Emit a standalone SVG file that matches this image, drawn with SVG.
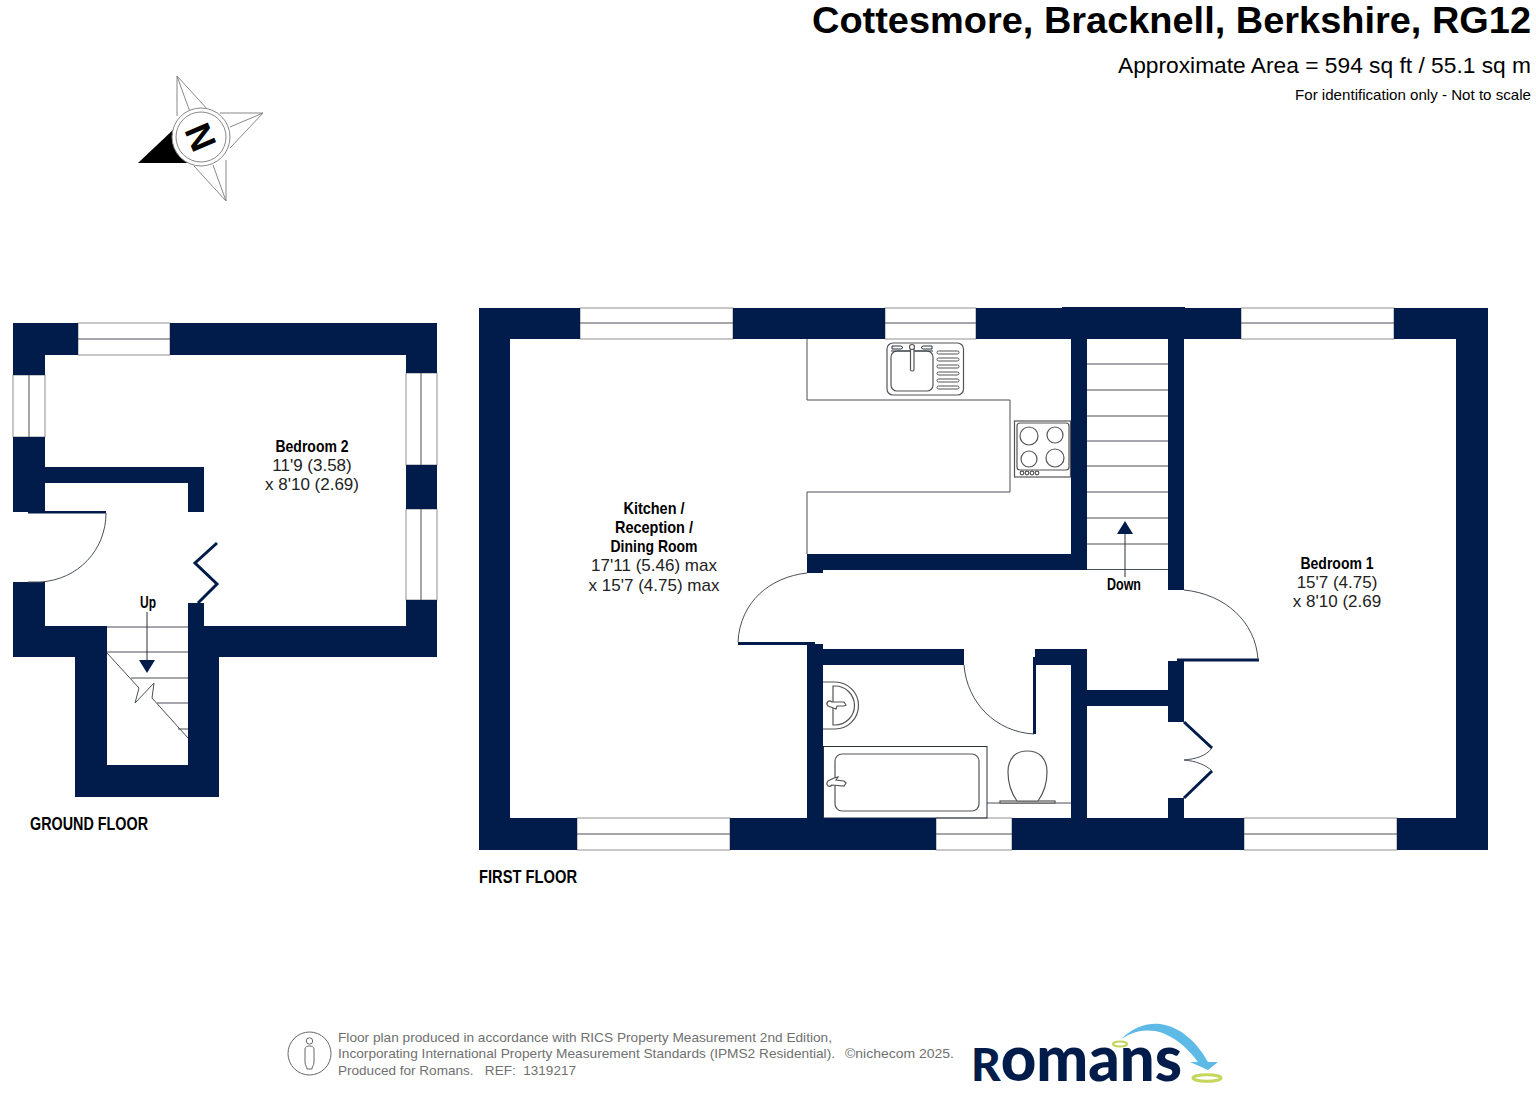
<svg xmlns="http://www.w3.org/2000/svg" width="1536" height="1096" viewBox="0 0 1536 1096">
<style>
.w{fill:#011b4a}
.ln{fill:none;stroke:#4a4f58;stroke-width:1}
.dk{fill:none;stroke:#2b3038;stroke-width:1}
.fx{fill:#fff;stroke:#555;stroke-width:1.2}
.win{fill:#fff;stroke:#777;stroke-width:.8}
.fold{fill:none;stroke:#011b4a;stroke-width:3}
.lab{font-family:"Liberation Sans",Arial,sans-serif;font-size:17px;fill:#222;text-anchor:middle}
.b{font-weight:bold;font-size:17px;fill:#000}
.fl{font-family:"Liberation Sans",Arial,sans-serif;font-weight:bold;font-size:19px;fill:#000}
.foot{font-family:"Liberation Sans",Arial,sans-serif;font-size:13.5px;fill:#707070;white-space:pre}
.head{font-family:"Liberation Sans",Arial,sans-serif;fill:#000;text-anchor:end}
</style>
<rect width="1536" height="1096" fill="#fff"/>

<g id="header">
<text class="head" x="1531" y="33" font-size="36" font-weight="bold" textLength="719" lengthAdjust="spacingAndGlyphs">Cottesmore, Bracknell, Berkshire, RG12</text>
<text class="head" x="1531" y="73" font-size="22" textLength="413" lengthAdjust="spacingAndGlyphs">Approximate Area = 594 sq ft / 55.1 sq m</text>
<text class="head" x="1531" y="100" font-size="14.5" textLength="236" lengthAdjust="spacingAndGlyphs">For identification only - Not to scale</text>
</g>

<g id="compass">
<path d="M177 76V116M177 76L209 111M177 76L190 112M263 113H220M263 113L230 148M263 113L230 127M226 201V160M226 201L194 166M226 201L213 165" fill="none" stroke="#888" stroke-width="1"/>
<path d="M138 163L174 129L187 163Z" fill="#000"/>
<circle cx="201" cy="137" r="29" fill="#fff" stroke="#888" stroke-width="1"/>
<circle cx="201" cy="137" r="25" fill="#fff" stroke="#888" stroke-width="1"/>
<text transform="translate(201 137) rotate(67)" x="0" y="13" font-family="Liberation Sans,Arial,sans-serif" font-weight="bold" font-size="36" text-anchor="middle" fill="#000">N</text>
</g>

<g id="ground-floor">
<g id="gf-windows">
<rect class="win" x="78" y="323" width="92" height="32"/><path class="ln" d="M78 339H170"/>
<rect class="win" x="13" y="375" width="32" height="62"/><path class="ln" d="M29 375V437"/>
<rect class="win" x="406" y="373" width="31" height="92"/><path class="ln" d="M421 373V465"/>
<rect class="win" x="406" y="509" width="31" height="91"/><path class="ln" d="M421 509V600"/>
</g>
<g id="gf-stairs">
<path class="ln" d="M107 627H188M107 652H188M131 678H188M157 703H188M178 729H188"/>
<path class="ln" d="M107 653L139 688L135 703L154 683L152 698L188 738"/>
<path class="dk" d="M147 612V662"/>
<path class="w" d="M139 660H155L147 673Z"/>
</g>
<g id="gf-walls">
<rect class="w" x="13" y="323" width="65" height="32"/>
<rect class="w" x="170" y="323" width="267" height="32"/>
<rect class="w" x="406" y="355" width="31" height="18"/>
<rect class="w" x="406" y="465" width="31" height="44"/>
<rect class="w" x="406" y="600" width="31" height="57"/>
<rect class="w" x="13" y="355" width="32" height="20"/>
<rect class="w" x="13" y="437" width="32" height="75"/>
<rect class="w" x="13" y="582" width="32" height="75"/>
<rect class="w" x="45" y="467" width="159" height="16"/>
<rect class="w" x="188" y="483" width="16" height="29"/>
<rect class="w" x="188" y="603" width="16" height="23"/>
<rect class="w" x="45" y="626" width="62" height="31"/>
<rect class="w" x="188" y="626" width="249" height="31"/>
<rect class="w" x="75" y="657" width="32" height="140"/>
<rect class="w" x="188" y="657" width="31" height="140"/>
<rect class="w" x="107" y="765" width="81" height="32"/>
</g>
<g id="gf-doors">
<rect class="w" x="28" y="511" width="78" height="2.5"/>
<path class="ln" d="M106 513C106 550 78 580 40 582H28"/>
<path class="fold" d="M217 543L195 563L217 584L198 603"/>
</g>
<g id="bedroom-2">
<text class="lab b" x="312" y="452" textLength="73" lengthAdjust="spacingAndGlyphs">Bedroom 2</text>
<text class="lab" x="312" y="471">11'9 (3.58)</text>
<text class="lab" x="312" y="490">x 8'10 (2.69)</text>
</g>
<text class="lab b" x="148" y="608" textLength="16" lengthAdjust="spacingAndGlyphs">Up</text>
<text class="fl" x="30" y="830" textLength="118" lengthAdjust="spacingAndGlyphs">GROUND FLOOR</text>
</g>

<g id="first-floor">
<g id="ff-windows">
<rect class="win" x="580" y="308" width="153" height="31"/><path class="ln" d="M580 323H733"/>
<rect class="win" x="885" y="308" width="91" height="31"/><path class="ln" d="M885 323H976"/>
<rect class="win" x="1241" y="308" width="153" height="31"/><path class="ln" d="M1241 323H1394"/>
<rect class="win" x="577" y="818" width="153" height="32"/><path class="ln" d="M577 834H730"/>
<rect class="win" x="936" y="818" width="76" height="32"/><path class="ln" d="M936 834H1012"/>
<rect class="win" x="1244" y="818" width="153" height="32"/><path class="ln" d="M1244 834H1397"/>
</g>
<g id="ff-stairs">
<path class="ln" d="M1087 364H1168M1087 390H1168M1087 416H1168M1087 441H1168M1087 466H1168M1087 492H1168M1087 518H1168M1087 544H1168M1087 569.500H1168"/>
<path class="dk" d="M1125 532V577"/>
<path class="w" d="M1117 534H1133L1125 521Z"/>
</g>
<g id="kitchen-units">
<path class="ln" d="M807 339V400H1010V492H807V554" stroke-width="1.200"/>
<rect class="fx" x="887" y="343" width="76.500" height="52" rx="6"/>
<rect class="fx" x="891" y="351" width="42" height="40" rx="6"/>
<path class="dk" d="M891 351H933"/>
<rect class="fx" x="910.500" y="347" width="3.500" height="24" rx="1.500"/>
<circle class="fx" cx="912" cy="347" r="2.500"/>
<path class="dk" d="M892 346H901L903 347.500L901 349H892ZM932 346H923L921 347.500L923 349H932Z"/>
<g fill="#fff" stroke="#555" stroke-width="1">
<rect x="937" y="351" width="22" height="3" rx="1.500"/><rect x="937" y="358" width="22" height="3" rx="1.500"/><rect x="937" y="365" width="22" height="3" rx="1.500"/><rect x="937" y="372" width="22" height="3" rx="1.500"/><rect x="937" y="379" width="22" height="3" rx="1.500"/><rect x="937" y="386" width="22" height="3" rx="1.500"/>
</g>
<rect class="fx" x="1014.500" y="421" width="56" height="56"/>
<rect class="fx" x="1017" y="423" width="52" height="47" rx="3"/>
<circle class="fx" cx="1029" cy="436" r="9"/><circle class="fx" cx="1055" cy="435" r="8"/><circle class="fx" cx="1029" cy="459" r="8"/><circle class="fx" cx="1055" cy="458" r="9"/>
<circle class="fx" cx="1022" cy="473" r="1.800"/><circle class="fx" cx="1027" cy="473" r="1.800"/><circle class="fx" cx="1032" cy="473" r="1.800"/><circle class="fx" cx="1037" cy="473" r="1.800"/>
</g>
<g id="bathroom-fittings">
<path class="fx" d="M823 682H835A23.500 23.500 0 0 1 835 729H823"/>
<path class="fx" d="M833 686H835A19.500 19.500 0 0 1 835 725H833Z"/>
<path class="fx" d="M846 705L844 702H832C829 699 825 703 828 706L836 709L837 706H844Z"/>
<rect class="dk" x="823.500" y="746.500" width="163.500" height="71.500"/>
<rect class="fx" x="835" y="754" width="144" height="57" rx="7"/>
<path class="fx" d="M846 783L844 781L836 780L838 777L834 778L828 781C825 785 829 788 832 785L844 786Z"/>
<path class="ln" d="M987 803H1071"/>
<rect class="fx" x="1000" y="801" width="55" height="2"/>
<path class="fx" d="M1017 801C1009 790 1008 780 1008 772C1008 758 1016 751 1027 751C1039 751 1047 758 1047 772C1047 780 1046 790 1038 801Z"/>
</g>
<g id="ff-walls">
<rect class="w" x="479" y="308" width="101" height="31"/>
<rect class="w" x="733" y="308" width="152" height="31"/>
<rect class="w" x="976" y="308" width="265" height="31"/>
<rect class="w" x="1394" y="308" width="94" height="31"/>
<rect class="w" x="1062" y="307" width="123" height="2"/>
<rect class="w" x="479" y="339" width="31" height="479"/>
<rect class="w" x="1456" y="339" width="32" height="479"/>
<rect class="w" x="479" y="818" width="98" height="32"/>
<rect class="w" x="730" y="818" width="206" height="32"/>
<rect class="w" x="1012" y="818" width="232" height="32"/>
<rect class="w" x="1397" y="818" width="91" height="32"/>
<rect class="w" x="807" y="554" width="280" height="16"/>
<rect class="w" x="807" y="570" width="16" height="3"/>
<rect class="w" x="1071" y="339" width="16" height="231"/>
<rect class="w" x="1168" y="339" width="16" height="251"/>
<rect class="w" x="807" y="642" width="8" height="176"/>
<rect class="w" x="815" y="644" width="8" height="174"/>
<rect class="w" x="823" y="649" width="141" height="16"/>
<rect class="w" x="1035" y="649" width="52" height="16"/>
<rect class="w" x="1071" y="665" width="16" height="153"/>
<rect class="w" x="1087" y="690" width="81" height="16"/>
<rect class="w" x="1168" y="661" width="16" height="61"/>
<rect class="w" x="1168" y="798" width="16" height="20"/>
</g>
<g id="ff-doors">
<rect class="w" x="738" y="642" width="70" height="3"/>
<path class="ln" d="M807 573C770 577 740 602 738 642"/>
<path class="ln" d="M964 665C967 703 996 732 1034 734"/>
<rect class="w" x="1033" y="657" width="3" height="77"/>
<rect class="w" x="1177" y="658.500" width="82" height="3"/>
<path class="ln" d="M1184 590C1225 594 1256 622 1258 660"/>
<path class="fold" d="M1184 722L1212 748M1212 771L1184 798"/>
<path class="ln" d="M1212 748C1206 756 1196 759 1184 760C1196 761 1206 765 1212 771"/>
</g>
<g id="kitchen-reception-dining">
<text class="lab b" x="654" y="514" textLength="61" lengthAdjust="spacingAndGlyphs">Kitchen /</text>
<text class="lab b" x="654" y="533" textLength="78" lengthAdjust="spacingAndGlyphs">Reception /</text>
<text class="lab b" x="654" y="552" textLength="87" lengthAdjust="spacingAndGlyphs">Dining Room</text>
<text class="lab" x="654" y="571">17'11 (5.46) max</text>
<text class="lab" x="654" y="590.500">x 15'7 (4.75) max</text>
</g>
<g id="bedroom-1">
<text class="lab b" x="1337" y="569" textLength="73" lengthAdjust="spacingAndGlyphs">Bedroom 1</text>
<text class="lab" x="1337" y="588">15'7 (4.75)</text>
<text class="lab" x="1337" y="607">x 8'10 (2.69</text>
</g>
<text class="lab b" x="1124" y="590" textLength="34" lengthAdjust="spacingAndGlyphs">Down</text>
<text class="fl" x="479" y="883" textLength="98" lengthAdjust="spacingAndGlyphs">FIRST FLOOR</text>
</g>

<g id="footer">
<circle cx="309.500" cy="1053.500" r="21.500" fill="none" stroke="#666" stroke-width="1"/>
<circle cx="309.500" cy="1041" r="3.200" fill="none" stroke="#666" stroke-width="1"/>
<path d="M305 1049C305 1045 314 1045 314 1049V1062C314 1066 312 1066 312 1069H307C307 1066 305 1066 305 1062Z" fill="none" stroke="#666" stroke-width="1"/>
<text class="foot" x="338" y="1042" textLength="494" lengthAdjust="spacingAndGlyphs">Floor plan produced in accordance with RICS Property Measurement 2nd Edition,</text>
<text class="foot" x="338" y="1058" textLength="497" lengthAdjust="spacingAndGlyphs">Incorporating International Property Measurement Standards (IPMS2 Residential).</text>
<text class="foot" x="338" y="1075" textLength="238" lengthAdjust="spacingAndGlyphs">Produced for Romans.   REF:  1319217</text>
<text class="foot" x="845" y="1058" textLength="109" lengthAdjust="spacingAndGlyphs">©nichecom 2025.</text>
</g>

<g id="romans-logo">
<path d="M1121 1039C1135 1026 1148 1023 1160 1024C1182 1027 1198 1044 1208 1062H1218L1208 1070L1190 1062H1198C1188 1048 1172 1034 1155 1031C1142 1029 1132 1032 1121 1039Z" fill="#5db9e6"/>
<ellipse cx="1120" cy="1044" rx="7" ry="2.500" fill="#fff" stroke="#c6d65c" stroke-width="2"/>
<ellipse cx="1207" cy="1078" rx="14" ry="3.200" fill="#fff" stroke="#c6d65c" stroke-width="3"/>
<text x="971" y="1081" textLength="211" lengthAdjust="spacingAndGlyphs" font-family="Lato,'Open Sans',sans-serif" font-weight="900" fill="#011b4a"><tspan font-size="46">R</tspan><tspan font-size="62">omans</tspan></text>
</g>
</svg>
